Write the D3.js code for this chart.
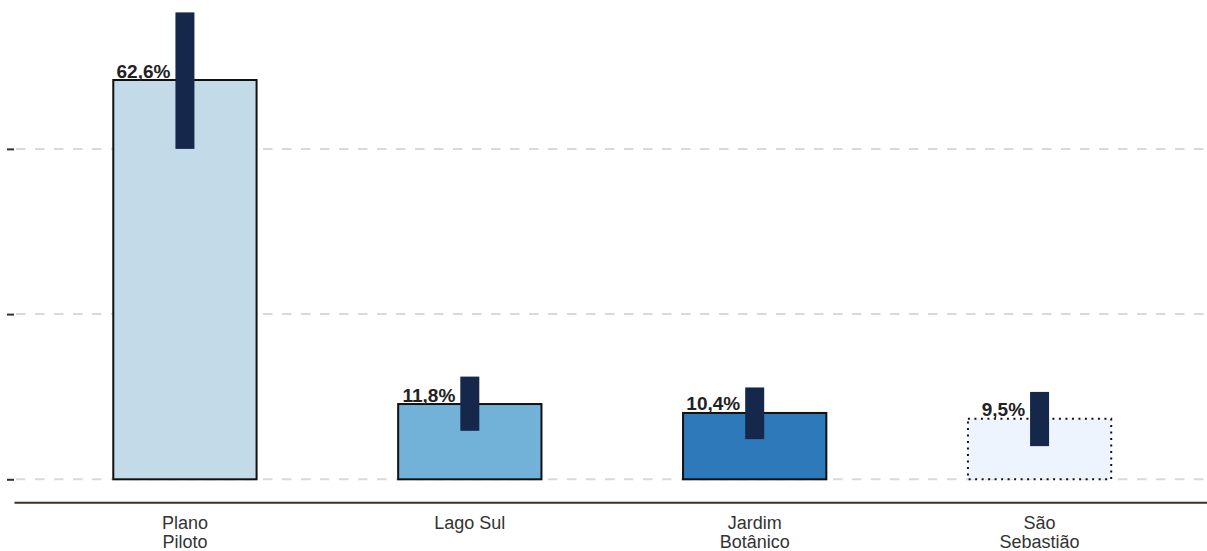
<!DOCTYPE html>
<html>
<head>
<meta charset="utf-8">
<script src="https://cdn.jsdelivr.net/npm/d3@7"></script>
<style>
  html, body { margin: 0; padding: 0; background: #fff; }
  svg { display: block; font-family: "Liberation Sans", Arial, sans-serif; }
</style>
</head>
<body>
<svg id="chart" width="1207" height="551"></svg>
<script>
const categories = ["Plano Piloto", "Lago Sul", "Jardim Botânico", "São Sebastião"];
const tickLabels = [["Plano", "Piloto"], ["Lago Sul"], ["Jardim", "Botânico"], ["São", "Sebastião"]];
const values = [62.6, 11.8, 10.4, 9.5];
const lower = [51.8, 7.6, 6.3, 5.2];
const upper = [73.2, 16.1, 14.4, 13.7];
const valueLabels = ["62,6%", "11,8%", "10,4%", "9,5%"];
const gridValues = [0, 25.9, 51.8];
const fills = ["#c3dae8", "#72b2d8", "#2e79ba", "#eef4fd"];
const dotted = [false, false, false, true];

const svg = d3.select("#chart");
const W = 1207;

const x = d3.scaleBand().domain(categories).range([14, 1210.5]).paddingInner(0.497).paddingOuter(0.3485);
const y = d3.scaleLinear().domain([0, 62.6]).range([479.3, 80]);

// gridlines
svg.append("g").selectAll("line").data(gridValues).join("line")
  .attr("x1", 16).attr("x2", W)
  .attr("y1", d => y(d)).attr("y2", d => y(d))
  .attr("stroke", "#d9d9d9").attr("stroke-width", 2)
  .attr("stroke-dasharray", "9.5,9.5");

// left tick marks
const yAxis = svg.append("g").attr("transform", "translate(14,0)")
  .call(d3.axisLeft(y).tickValues(gridValues).tickSize(7).tickFormat(""));
yAxis.select(".domain").remove();
yAxis.selectAll(".tick line").attr("stroke", "#3b2f29").attr("stroke-width", 2);

// bars
const data = categories.map((c, i) => ({c, v: values[i], lo: lower[i], hi: upper[i], lab: valueLabels[i], fill: fills[i], dotted: dotted[i], lines: tickLabels[i]}));

svg.append("g").selectAll("rect").data(data).join("rect")
  .attr("x", d => x(d.c))
  .attr("y", d => y(d.v))
  .attr("width", x.bandwidth())
  .attr("height", d => y(0) - y(d.v))
  .attr("fill", d => d.fill)
  .attr("stroke", "#111")
  .attr("stroke-width", 2)
  .attr("stroke-dasharray", d => d.dotted ? "2,4.5" : null);

// error bars
const ew = 19;
svg.append("g").selectAll("rect").data(data).join("rect")
  .attr("x", d => x(d.c) + x.bandwidth() / 2 - ew / 2)
  .attr("y", d => y(d.hi))
  .attr("width", ew)
  .attr("height", d => y(d.lo) - y(d.hi))
  .attr("fill", "#15284b");

// value labels
svg.append("g").selectAll("text").data(data).join("text")
  .attr("x", d => x(d.c) + x.bandwidth() / 2 - ew / 2 - 5)
  .attr("y", d => y(d.v) - 2.5)
  .attr("text-anchor", "end")
  .attr("font-weight", "bold")
  .attr("font-size", 19)
  .attr("fill", "#222")
  .text(d => d.lab);

// x axis
const xAxis = svg.append("g").attr("transform", "translate(0,502.3)")
  .call(d3.axisBottom(x).tickSize(0).tickSizeOuter(0).tickFormat(""));
xAxis.select(".domain").attr("stroke", "#3b2f29").attr("stroke-width", 2);

xAxis.selectAll(".tick").each(function(d, i) {
  const t = d3.select(this).append("text")
    .attr("fill", "#333")
    .attr("font-size", 18)
    .attr("text-anchor", "middle");
  tickLabels[categories.indexOf(d)].forEach((w, j) => {
    t.append("tspan").attr("x", 0).attr("y", 27 + j * 19).text(w);
  });
});
</script>
</body>
</html>
